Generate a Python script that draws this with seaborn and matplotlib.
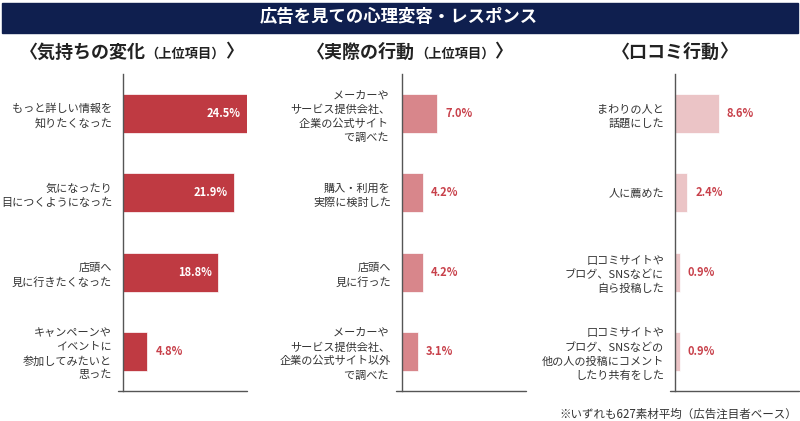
import matplotlib
matplotlib.use("Agg")
import matplotlib.pyplot as plt
import seaborn as sns
import pandas as pd
from matplotlib.offsetbox import TextArea, HPacker, AnnotationBbox

sns.set_style("white")
plt.rcParams['font.family'] = ['Noto Sans CJK JP', 'DejaVu Sans']

# data
cats1 = ["もっと詳しい情報を\n知りたくなった", "気になったり\n目につくようになった",
         "店頭へ\n見に行きたくなった", "キャンペーンや\nイベントに\n参加してみたいと\n思った"]
vals1 = [24.5, 21.9, 18.8, 4.8]
cats2 = ["メーカーや \nサービス提供会社、\n企業の公式サイト \nで調べた ", "購入・利用を\n実際に検討した",
         "店頭へ\n見に行った", "メーカーや \nサービス提供会社、\n企業の公式サイト以外\nで調べた "]
vals2 = [7.0, 4.2, 4.2, 3.1]
cats3 = ["まわりの人と\n話題にした", "人に薦めた",
         "口コミサイトや\nブログ、SNSなどに\n自ら投稿した",
         "口コミサイトや\nブログ、SNSなどの\n他の人の投稿にコメント\nしたり共有をした"]
vals3 = [8.6, 2.4, 0.9, 0.9]

panels = [
    (cats1, vals1, "#bf3a42", ("〈気持ちの変化", "（上位項目）", "〉"), 0.154, 0.164),
    (cats2, vals2, "#d8868b", ("〈実際の行動", "（上位項目）", "〉"), 0.5025, 0.512),
    (cats3, vals3, "#ebc4c6", ("〈口コミ行動", "", "〉"), 0.844, 0.843),
]
label_red = "#c8414b"
spine_col = "#555555"

fig = plt.figure(figsize=(8, 4.21), dpi=100)

# header band
fig.patches.append(plt.Rectangle((0.003, 1 - 33 / 421), 0.994, 30 / 421,
                                 transform=fig.transFigure, color="#0f1f4f", zorder=0))
fig.text(0.499, 1 - 17.5 / 421, "広告を見ての心理変容・レスポンス", color="white",
         fontsize=12.5, fontweight="bold", ha="center", va="center")

for cats, vals, col, sub, left, subx in panels:
    ax = fig.add_axes([left, 0.0713, 0.155, 0.753])
    df = pd.DataFrame({"cat": cats, "val": vals})
    sns.barplot(data=df, x="val", y="cat", orient="h", color=col, saturation=1,
                width=0.49, edgecolor="white", linewidth=0.5, ax=ax)
    ax.set_xlim(0, 24.6)
    ax.set_ylim(3.5, -0.5)
    ax.set_xlabel("")
    ax.set_ylabel("")
    ax.set_xticks([])
    for s in ["top", "right", "bottom"]:
        ax.spines[s].set_visible(False)
    ax.spines["left"].set_color(spine_col)
    ax.spines["left"].set_linewidth(1.0)
    ax.set_yticks([-0.5, 0.5, 1.5, 2.5], minor=True)
    ax.tick_params(axis="y", which="minor", length=5, width=1.0, color=spine_col, direction="out")
    ax.tick_params(axis="y", which="major", length=0, pad=8, labelsize=8, labelcolor="#333333")
    for t in ax.get_yticklabels():
        t.set_multialignment("right")
        t.set_linespacing(1.45)
    ax.plot([-0.045, 1], [0, 0], transform=ax.transAxes, color=spine_col, lw=1.0, clip_on=False)

    for i, v in enumerate(vals):
        if v > 10:
            ax.text(v - 1.2, i, f"{v:.1f}%", ha="right", va="center", color="white",
                    fontsize=8, fontweight="bold")
        else:
            ax.text(v + 1.6, i, f"{v:.1f}%", ha="left", va="center", color=label_red,
                    fontsize=8, fontweight="bold")

    # subtitle with mixed font sizes
    parts = [TextArea(sub[0], textprops=dict(fontsize=13, fontweight="bold", color="#222222"))]
    if sub[1]:
        parts.append(TextArea(sub[1], textprops=dict(fontsize=9.5, fontweight="bold", color="#222222")))
    parts.append(TextArea(sub[2], textprops=dict(fontsize=13, fontweight="bold", color="#222222")))
    box = HPacker(children=parts, align="baseline", pad=0, sep=0)
    ab = AnnotationBbox(box, (subx, 1 - 52 / 421), xycoords="figure fraction",
                        frameon=False, box_alignment=(0.5, 0.5))
    fig.add_artist(ab)

fig.text(0.996, 1 - 414 / 421, "※いずれも627素材平均（広告注目者ベース）", ha="right", va="center",
         fontsize=8.3, color="#333333")

fig.savefig("out.png", dpi=100)
